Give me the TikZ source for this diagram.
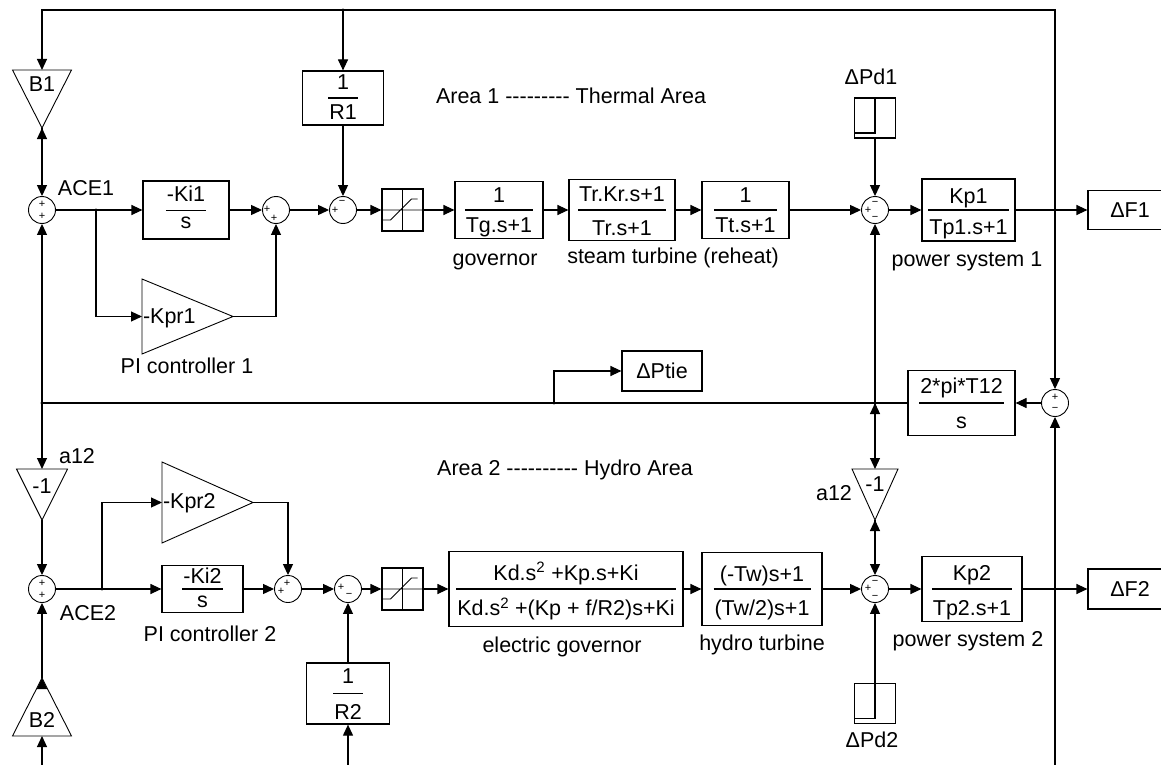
\documentclass[tikz,border=0pt]{standalone}
\usepackage{fontspec}
\setmainfont{Liberation Sans}
\usetikzlibrary{arrows.meta}
\setlength{\arrayrulewidth}{1.1pt}
\newcommand{\tfn}[4]{{\renewcommand{\arraystretch}{0.3}%
\begin{tabular}{@{\hspace{1pt}}c@{\hspace{1pt}}}\rule[-#1]{0pt}{\dimexpr#2+5pt\relax}#3\\\hline
\rule[-5pt]{0pt}{\dimexpr#2+5pt\relax}#4\end{tabular}}}
\newcommand{\dsh}{\mbox{-}}

\begin{document}
\begin{tikzpicture}[x=1pt, y=-1pt, line width=1.15pt, font=\fontsize{21.5}{25}\selectfont,
  blk/.style 2 args={draw, rectangle, inner sep=0pt, minimum width=#1pt, minimum height=#2pt},
  sm/.style={draw, circle, inner sep=0pt, minimum size=27pt, line width=0.9pt},
  sgn/.style={font=\fontsize{11}{11}\selectfont, inner sep=0pt},
  sg/.style n args={3}{label={[sgn, xshift=#1pt, yshift=#2pt]center:#3}},
  gn/.style n args={4}{inner sep=0pt, outer sep=0pt, minimum width=#1pt, minimum height=#2pt, text height=#3, text depth=#4},
  sat/.style={draw, inner sep=0pt, minimum width=41pt, minimum height=42pt, path picture={
    \draw[line width=0.9pt] (path picture bounding box.north) -- (path picture bounding box.south)
      (path picture bounding box.west) -- (path picture bounding box.east)
      ([shift={(-20pt,-10pt)}]path picture bounding box.center) -- ++(8pt,0pt) -- ++(21pt,21pt) -- ++(6pt,0pt);}},
  stp/.style={draw, inner sep=0pt, minimum width=41pt, minimum height=40pt, path picture={
    \draw ([yshift=5pt]path picture bounding box.south west) -| (path picture bounding box.north) -- (path picture bounding box.north east);}},
  lb/.style={inner sep=0pt, anchor=base},
  arr/.style={-{Triangle[length=11pt, width=10pt]}}]
\useasboundingbox (0,0) rectangle (1161,765);

\node[gn={59}{58}{22pt}{36pt}] (b1) at (42,99) {B1};
\node[sm, sg={0}{6}{+}, sg={0}{-6}{+}] (ace1) at (42,210) {};
\node[blk={86}{58}] (ki1) at (186,210) {\tfn{8pt}{18pt}{-Ki1}{s}};
\node[gn={91}{75}{44pt}{31pt}] (kpr1) at (187.5,316.5) {\makebox[91pt][l]{\hspace{1pt}-Kpr1}};
\node[sm, sg={-9}{1}{+}, sg={-2}{-8}{+}] (pi1) at (276,210) {};
\node[blk={81}{54}] (r1) at (343,98) {\tfn{8pt}{21pt}{1}{R1}};
\node[sm, sg={-8}{0}{+}, sg={-1}{8}{−}] (r1s) at (343,210) {};
\node[sat] (sat1) at (402.5,210) {};
\node[blk={88}{57}] (gov) at (499,210) {\tfn{7pt}{22pt}{1}{Tg.s+1}};
\node[blk={106}{61}] (st) at (622,210) {\tfn{8pt}{25pt}{Tr.Kr.s+1}{Tr.s+1}};
\node[blk={87}{57}] (tt) at (745.5,210) {\tfn{7pt}{22pt}{1}{Tt.s+1}};
\node[stp] (pd1) at (875,118) {};
\node[sm, sg={-7}{0}{+}, sg={0}{7}{−}, sg={0}{-8}{−}] (pd1s) at (875,210) {};
\node[blk={93}{62}] (kp1) at (968.5,210) {\tfn{6pt}{24pt}{Kp1}{Tp1.s+1}};
\node[blk={84}{39}] (df1) at (1130,210) {ΔF1};

\node[blk={80}{40}] (ptie) at (662,371) {ΔPtie};
\node[blk={107}{65}] (tie) at (961.5,403) {\tfn{9pt}{25pt}{2*pi*T12}{s}};
\node[sm, sg={0}{6}{+}, sg={0}{-6}{−}] (ties) at (1055,403) {};

\node[gn={51}{51}{24pt}{27pt}] (ng1) at (42,494.5) {-1};
\node[sm, sg={0}{6}{+}, sg={0}{-6}{+}] (ace2) at (42,589) {};
\node[gn={59}{58}{49pt}{9pt}] (b2) at (42,707) {B2};
\node[gn={91}{81}{46pt}{35pt}] (kpr2) at (207.5,502.5) {\makebox[91pt][l]{\hspace{1pt}-Kpr2}};
\node[blk={81}{47}] (ki2) at (202.5,589) {\tfn{5pt}{18pt}{-Ki2}{s}};
\node[sm, sg={-7}{-2}{+}, sg={-1}{6}{+}] (pi2) at (288,589) {};
\node[sm, sg={-7}{2}{+}, sg={1}{-6}{−}] (r2s) at (348,589) {};
\node[blk={83}{61}] (r2) at (348,693.5) {\tfn{9pt}{25pt}{1}{R2}};
\node[sat] (sat2) at (402.5,589) {};
\node[blk={234}{75}] (eg) at (566,589) {\tfn{8pt}{26pt}{Kd.s\textsuperscript{2} +Kp.s+Ki}{Kd.s\textsuperscript{2} +(Kp + f/R2)s+Ki}};
\node[blk={120}{73}] (ht) at (762,589) {\tfn{7pt}{26pt}{(-Tw)s+1}{(Tw/2)s+1}};
\node[gn={46}{51}{22pt}{29pt}] (ng2) at (875,494.5) {-1};
\node[sm, sg={-7}{1}{+}, sg={0}{7}{−}, sg={0}{-8}{−}] (pd2s) at (875,589) {};
\node[stp] (pd2) at (875,703.5) {};
\node[blk={100}{65}] (kp2) at (972,589) {\tfn{8pt}{26pt}{Kp2}{Tp2.s+1}};
\node[blk={84}{40}] (df2) at (1130,589) {ΔF2};

\node[lb] (lar1) at (571,104) {Area 1 \dsh\dsh\dsh\dsh\dsh\dsh\dsh\dsh\dsh{} Thermal Area};
\node[lb] (lar2) at (565,475) {Area 2 \dsh\dsh\dsh\dsh\dsh\dsh\dsh\dsh\dsh\dsh{} Hydro Area};
\node[lb] (lace1) at (86,195) {ACE1};
\node[lb] (lace2) at (88,620) {ACE2};
\node[lb] (lpi1) at (187,373) {PI controller 1};
\node[lb] (lpi2) at (210,641) {PI controller 2};
\node[lb] (lgov) at (495,265) {governor};
\node[lb] (lst) at (673,263) {steam turbine (reheat)};
\node[lb] (lps1) at (967,266) {power system 1};
\node[lb] (leg) at (562,652) {electric governor};
\node[lb] (lht) at (762,650) {hydro turbine};
\node[lb] (lps2) at (968,646) {power system 2};
\node[lb] (lpd1) at (871,85) {ΔPd1};
\node[lb] (lpd2) at (872,747) {ΔPd2};
\node[lb] (la1) at (77,463) {a12};
\node[lb] (la2) at (834,500) {a12};

\coordinate (top) at (343,10);
\coordinate (jA1) at (96,210);
\coordinate (jF1) at (1055,210);
\coordinate (jT1) at (42,403);
\coordinate (jT2) at (875,403);
\coordinate (jT3) at (554,403);
\coordinate (jA2) at (102,589);
\coordinate (jF2) at (1055,589);
\coordinate (bt1) at (42,765);
\coordinate (bt2) at (348,765);
\coordinate (bt3) at (1055,765);

\foreach \g in {b1,ng1,ng2} \draw[line width=0.9pt] (\g.north west) -- (\g.north east) -- (\g.south) -- cycle;
\draw[line width=0.9pt] (b2.south west) -- (b2.south east) -- (b2.north) -- cycle;
\foreach \g in {kpr1,kpr2} \draw[line width=0.9pt] (\g.north west) -- (\g.east) -- (\g.south west) -- cycle;

\draw[arr] (jF1) |- (top) -| (b1);
\draw[arr] (top) edge (r1) (r1) edge (r1s) (b1.south) edge (ace1) (ace1) edge (ki1) (ki1) edge (pi1) (pi1) edge (r1s);
\draw[arr] (jA1) |- (kpr1);
\draw[arr] (kpr1.east) -| (pi1);
\draw[arr] (r1s) edge (sat1) (sat1) edge (gov) (gov) edge (st) (st) edge (tt) (tt) edge (pd1s)
  (pd1) edge (pd1s) (pd1s) edge (kp1) (kp1) edge (df1);
\draw[arr] (jF1) edge (ties) (bt3) edge (ties) (ties) edge (tie);
\draw (tie) -- (jT1);
\draw[arr] (jT1) edge (ace1) (jT1) edge (ng1) (jT2) edge (pd1s) (jT2) edge (ng2);
\draw[arr] (jT3) |- (ptie);
\draw[arr] (ng1.south) edge (ace2) (bt1) edge (b2) (b2.north) edge (ace2) (ace2) edge (ki2) (ki2) edge (pi2) (pi2) edge (r2s);
\draw[arr] (jA2) |- (kpr2);
\draw[arr] (kpr2.east) -| (pi2);
\draw[arr] (bt2) edge (r2) (r2) edge (r2s) (r2s) edge (sat2) (sat2) edge (eg) (eg) edge (ht) (ht) edge (pd2s)
  (ng2.south) edge (pd2s) (pd2) edge (pd2s) (pd2s) edge (kp2) (kp2) edge (df2);
\foreach \j in {top,jA1,jF1,jT1,jT2,jT3,jA2,jF2} \fill (\j) circle (1.6pt);
\end{tikzpicture}
\end{document}
